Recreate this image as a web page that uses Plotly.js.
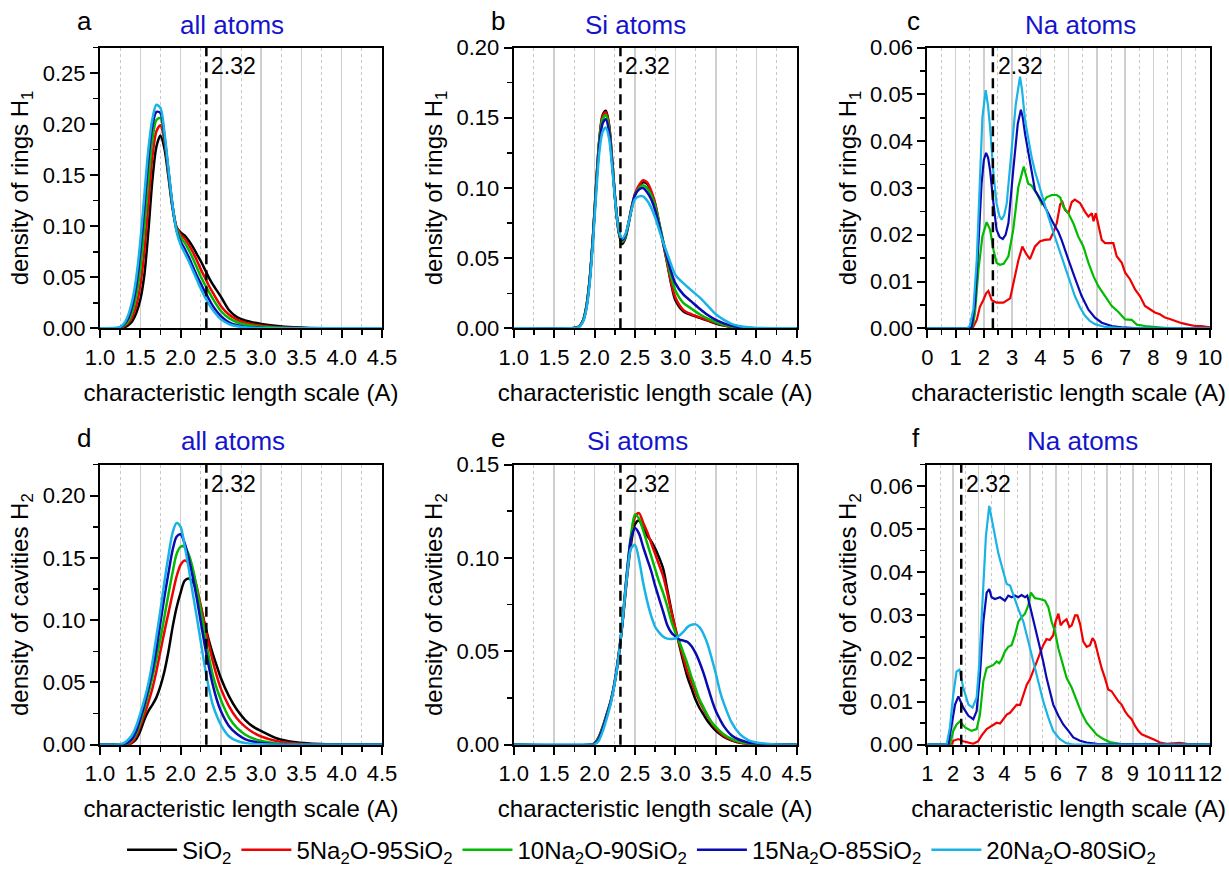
<!DOCTYPE html>
<html><head><meta charset="utf-8">
<script src="https://cdn.plot.ly/plotly-3.0.1.min.js"></script>
<style>html,body{margin:0;padding:0;background:#fff}#chart{width:1229px;height:873px}</style>
</head><body><div id="chart"></div>
<script>
// ---------------- DATA ----------------
const seriesNames = ['SiO<sub>2</sub>', '5Na<sub>2</sub>O-95SiO<sub>2</sub>', '10Na<sub>2</sub>O-90SiO<sub>2</sub>', '15Na<sub>2</sub>O-85SiO<sub>2</sub>', '20Na<sub>2</sub>O-80SiO<sub>2</sub>'];
const seriesColors = ['#000000', '#f00000', '#00bb00', '#0a0ab4', '#19b3e6'];
const panelLetters = ['a', 'b', 'c', 'd', 'e', 'f'];
const panelTitles = ['all atoms', 'Si atoms', 'Na atoms', 'all atoms', 'Si atoms', 'Na atoms'];
const yTitles = ['density of rings H<sub>1</sub>', 'density of rings H<sub>1</sub>', 'density of rings H<sub>1</sub>',
                 'density of cavities H<sub>2</sub>', 'density of cavities H<sub>2</sub>', 'density of cavities H<sub>2</sub>'];
const xTitle = 'characteristic length scale (A)';
const refLength = 2.32;
const refLabel = '2.32';

// panel a: all atoms, rings H1
const xA = [1.0,1.2,1.25,1.3,1.35,1.4,1.45,1.5,1.55,1.6,1.65,1.7,1.75,1.8,1.85,1.9,1.95,2.0,2.05,2.1,2.15,2.2,2.25,2.3,2.35,2.4,2.5,2.6,2.7,2.8,2.9,3.0,3.2,3.4,3.6,4.0,4.5];
const aSiO2 = [0,0,0,0.001,0.003,0.007,0.015,0.028,0.052,0.095,0.145,0.178,0.189,0.176,0.148,0.118,0.099,0.094,0.091,0.086,0.080,0.073,0.066,0.058,0.050,0.043,0.031,0.018,0.011,0.0078,0.0058,0.0042,0.0022,0.001,0.0004,0.0001,0];
const aNa5 = [0,0,0,0.002,0.005,0.011,0.022,0.042,0.075,0.122,0.168,0.193,0.199,0.183,0.152,0.120,0.099,0.092,0.088,0.082,0.075,0.067,0.058,0.050,0.042,0.035,0.022,0.0135,0.0085,0.0055,0.0038,0.0026,0.0012,0.0005,0.0002,0,0];
const aNa10 = [0,0,0.0005,0.003,0.007,0.016,0.032,0.058,0.098,0.145,0.185,0.204,0.206,0.186,0.153,0.120,0.098,0.089,0.084,0.077,0.069,0.060,0.051,0.043,0.036,0.029,0.017,0.010,0.006,0.0037,0.0024,0.0015,0.0006,0.0002,0,0,0];
const aNa15 = [0,0,0.001,0.004,0.010,0.022,0.042,0.075,0.118,0.165,0.198,0.212,0.211,0.188,0.154,0.120,0.096,0.085,0.078,0.070,0.061,0.052,0.044,0.036,0.029,0.022,0.012,0.006,0.003,0.0015,0.0008,0.0004,0.0001,0,0,0,0];
const aNa20 = [0,0.0005,0.0015,0.005,0.013,0.027,0.05,0.085,0.13,0.175,0.205,0.219,0.216,0.192,0.156,0.121,0.095,0.082,0.074,0.066,0.057,0.048,0.039,0.031,0.024,0.018,0.009,0.0042,0.002,0.001,0.0005,0.0002,0,0,0,0,0];

// panel b: Si atoms, rings H1
const xB = [1.0,1.7,1.78,1.82,1.86,1.9,1.94,1.98,2.02,2.06,2.1,2.14,2.18,2.22,2.26,2.3,2.34,2.38,2.42,2.46,2.5,2.55,2.6,2.65,2.7,2.75,2.8,2.85,2.9,2.95,3.0,3.1,3.2,3.3,3.4,3.5,3.6,3.7,3.8,3.9,4.0,4.2,4.5];
const bSiO2 = [0,0,0.0005,0.002,0.006,0.016,0.035,0.065,0.103,0.135,0.152,0.155,0.145,0.118,0.088,0.068,0.060,0.064,0.074,0.086,0.095,0.101,0.104,0.103,0.097,0.088,0.074,0.060,0.046,0.031,0.020,0.012,0.0095,0.0075,0.0055,0.0035,0.002,0.001,0.0004,0.0001,0,0,0];
const bNa5 = [0,0,0.0005,0.002,0.006,0.016,0.035,0.065,0.103,0.135,0.151,0.154,0.144,0.118,0.089,0.069,0.0615,0.065,0.075,0.087,0.096,0.102,0.1055,0.104,0.098,0.089,0.075,0.061,0.046,0.032,0.022,0.013,0.010,0.0078,0.0058,0.004,0.0022,0.001,0.0004,0.0001,0,0,0];
const bNa10 = [0,0,0.0005,0.002,0.006,0.016,0.035,0.065,0.102,0.134,0.149,0.152,0.142,0.117,0.089,0.069,0.062,0.065,0.075,0.086,0.095,0.100,0.102,0.100,0.095,0.087,0.075,0.062,0.048,0.036,0.027,0.018,0.014,0.010,0.007,0.0045,0.0025,0.0012,0.0005,0.0002,0,0,0];
const bNa15 = [0,0,0.0004,0.0018,0.0055,0.015,0.034,0.064,0.100,0.131,0.146,0.149,0.140,0.116,0.089,0.070,0.063,0.066,0.075,0.086,0.095,0.099,0.100,0.097,0.092,0.084,0.073,0.061,0.050,0.040,0.032,0.024,0.019,0.014,0.0095,0.006,0.0035,0.0018,0.0008,0.0003,0.0001,0,0];
const bNa20 = [0,0,0.0003,0.0015,0.005,0.014,0.032,0.061,0.096,0.126,0.140,0.143,0.135,0.113,0.088,0.070,0.064,0.067,0.075,0.085,0.092,0.094,0.094,0.091,0.086,0.079,0.070,0.061,0.053,0.045,0.038,0.032,0.027,0.022,0.016,0.010,0.006,0.003,0.0015,0.0007,0.0003,0.0001,0];

// panel c: Na atoms, rings H1 (each series sampled separately)
const cNa5X = [0,1.6,1.75,1.86,1.98,2.08,2.16,2.28,2.45,2.69,2.93,3.04,3.22,3.36,3.51,3.63,3.81,3.99,4.16,4.34,4.46,4.58,4.7,4.78,4.87,4.99,5.11,5.22,5.4,5.58,5.7,5.82,5.88,5.96,6.05,6.17,6.29,6.46,6.58,6.7,6.88,7.0,7.17,7.35,7.52,7.7,7.88,8.05,8.23,8.41,8.58,8.76,9.0,9.23,9.47,9.7,9.94,10];
const cNa5 = [0,0,0.0018,0.0046,0.006,0.0075,0.008,0.006,0.0055,0.0055,0.0064,0.0095,0.0145,0.0175,0.0158,0.0148,0.0175,0.0186,0.0189,0.0190,0.0205,0.0225,0.0265,0.0270,0.0253,0.0246,0.0270,0.0275,0.0268,0.0249,0.0239,0.0246,0.0229,0.0246,0.0224,0.0189,0.0182,0.0182,0.0182,0.0154,0.0140,0.0119,0.0105,0.0083,0.0069,0.0048,0.0041,0.0034,0.0030,0.0023,0.0020,0.0016,0.0011,0.0008,0.0005,0.0005,0.0002,0.0002];
const cNa10X = [0,1.55,1.62,1.69,1.81,1.95,2.1,2.22,2.34,2.45,2.57,2.7,2.87,3.04,3.22,3.41,3.5,3.57,3.69,3.87,4.05,4.22,4.4,4.58,4.7,4.81,4.99,5.17,5.34,5.52,5.7,5.88,6.05,6.29,6.52,6.76,7.0,7.23,7.41,7.7,8.17,8.6,10];
const cNa10 = [0,0,0.0008,0.0034,0.0126,0.0197,0.0227,0.0211,0.0168,0.014,0.0136,0.0138,0.0154,0.0211,0.0302,0.0346,0.0325,0.0309,0.0305,0.0288,0.0266,0.0280,0.0285,0.0285,0.0280,0.0260,0.0246,0.0224,0.0196,0.0175,0.0140,0.0111,0.0090,0.0069,0.0048,0.0035,0.0019,0.0018,0.0008,0.0005,0.0002,0,0];
const cNa15X = [0,1.5,1.57,1.69,1.81,1.92,2.0,2.08,2.15,2.22,2.34,2.45,2.56,2.67,2.77,2.87,3.04,3.2,3.31,3.38,3.46,3.63,3.81,3.99,4.22,4.46,4.63,4.75,4.87,4.99,5.22,5.46,5.7,5.93,6.17,6.52,6.88,7.5,10];
const cNa15 = [0,0,0.0003,0.0055,0.0182,0.031,0.0360,0.0375,0.0365,0.0338,0.0267,0.0211,0.0195,0.0191,0.0200,0.0225,0.0338,0.0437,0.0467,0.0450,0.0415,0.0352,0.0295,0.0277,0.0253,0.0224,0.0207,0.0189,0.0170,0.0147,0.0108,0.0069,0.0040,0.0023,0.0012,0.0005,0.0002,0,0];
const cNa20X = [0,1.4,1.5,1.63,1.75,1.86,1.95,2.065,2.15,2.22,2.34,2.45,2.55,2.63,2.72,2.81,2.98,3.13,3.28,3.35,3.46,3.58,3.69,3.81,3.93,4.1,4.28,4.45,4.63,4.81,4.99,5.1,5.22,5.4,5.58,5.75,5.93,6.29,7,10];
const cNa20 = [0,0,0.0005,0.0041,0.0147,0.0323,0.0451,0.0509,0.0475,0.043,0.0331,0.0267,0.0240,0.0232,0.0242,0.0267,0.0373,0.0479,0.0538,0.0510,0.0444,0.0400,0.0366,0.0335,0.0309,0.0275,0.0239,0.0207,0.0175,0.0143,0.0111,0.0090,0.0069,0.0045,0.0027,0.0016,0.0009,0.0003,0,0];

// panel d: all atoms, cavities H2
const xD = [1.0,1.25,1.3,1.35,1.4,1.45,1.5,1.55,1.6,1.65,1.7,1.75,1.8,1.85,1.9,1.95,2.0,2.05,2.1,2.15,2.2,2.25,2.3,2.35,2.4,2.45,2.5,2.6,2.7,2.8,2.9,3.0,3.2,3.4,3.6,3.8,4.0,4.5];
const dSiO2 = [0,0,0,0,0.0015,0.0045,0.011,0.020,0.027,0.032,0.038,0.047,0.059,0.075,0.094,0.110,0.122,0.1316,0.1335,0.131,0.123,0.111,0.097,0.084,0.073,0.063,0.0535,0.039,0.028,0.020,0.0145,0.011,0.005,0.0022,0.001,0.0004,0.0001,0];
const dNa5 = [0,0,0,0,0.002,0.007,0.015,0.024,0.034,0.045,0.059,0.075,0.091,0.106,0.121,0.135,0.1445,0.148,0.146,0.139,0.127,0.112,0.096,0.081,0.067,0.055,0.045,0.031,0.021,0.0145,0.0098,0.0066,0.0028,0.0011,0.0004,0.0001,0,0];
const dNa10 = [0,0,0,0.0015,0.004,0.009,0.018,0.029,0.041,0.054,0.069,0.085,0.103,0.121,0.138,0.153,0.159,0.159,0.153,0.142,0.126,0.108,0.089,0.071,0.056,0.045,0.036,0.022,0.0135,0.0082,0.005,0.003,0.001,0.0003,0,0,0,0];
const dNa15 = [0,0,0.0005,0.002,0.005,0.011,0.021,0.032,0.045,0.059,0.077,0.098,0.119,0.138,0.156,0.167,0.169,0.162,0.150,0.135,0.118,0.099,0.080,0.063,0.048,0.036,0.027,0.015,0.0085,0.0045,0.0025,0.0013,0.0003,0,0,0,0,0];
const dNa20 = [0,0.0003,0.0015,0.004,0.008,0.015,0.025,0.036,0.049,0.066,0.087,0.108,0.131,0.152,0.170,0.178,0.175,0.160,0.142,0.122,0.103,0.083,0.063,0.046,0.032,0.023,0.016,0.0068,0.003,0.0013,0.0006,0.0003,0.0001,0,0,0,0,0];

// panel e: Si atoms, cavities H2
const xE = [1.0,1.95,2.0,2.05,2.1,2.15,2.2,2.25,2.3,2.35,2.4,2.45,2.5,2.55,2.6,2.65,2.7,2.75,2.8,2.85,2.9,2.95,3.0,3.05,3.1,3.15,3.2,3.25,3.3,3.35,3.4,3.45,3.5,3.55,3.6,3.7,3.8,3.9,4.0,4.2,4.5];
const eSiO2 = [0,0,0.0008,0.004,0.0095,0.0163,0.0235,0.034,0.049,0.067,0.089,0.107,0.118,0.120,0.116,0.112,0.109,0.105,0.100,0.094,0.083,0.072,0.062,0.053,0.044,0.036,0.030,0.024,0.0195,0.016,0.0125,0.0098,0.0075,0.0057,0.0042,0.0022,0.001,0.0004,0.0002,0,0];
const eNa5 = [0,0,0.0006,0.0035,0.009,0.0158,0.023,0.0335,0.048,0.067,0.090,0.110,0.122,0.124,0.119,0.114,0.108,0.102,0.096,0.090,0.081,0.071,0.062,0.054,0.0463,0.039,0.0335,0.028,0.023,0.0189,0.015,0.0115,0.0088,0.0065,0.0047,0.0025,0.0012,0.0005,0.0002,0,0];
const eNa10 = [0,0,0.0006,0.0035,0.009,0.0158,0.023,0.0335,0.048,0.068,0.092,0.112,0.1233,0.121,0.115,0.108,0.101,0.094,0.087,0.081,0.074,0.066,0.060,0.055,0.049,0.043,0.036,0.030,0.024,0.0198,0.0155,0.012,0.0095,0.0074,0.0055,0.003,0.0015,0.0006,0.0003,0,0];
const eNa15 = [0,0,0.0005,0.003,0.0085,0.0155,0.0228,0.0335,0.048,0.068,0.092,0.110,0.116,0.113,0.106,0.0995,0.093,0.085,0.078,0.071,0.064,0.060,0.058,0.0563,0.0557,0.055,0.0527,0.049,0.044,0.038,0.031,0.024,0.018,0.0136,0.0098,0.0048,0.0025,0.0012,0.0006,0.0001,0];
const eNa20 = [0,0,0.0002,0.002,0.007,0.014,0.022,0.033,0.048,0.068,0.090,0.105,0.107,0.099,0.087,0.077,0.069,0.063,0.060,0.0578,0.0568,0.0566,0.057,0.0585,0.0605,0.063,0.0642,0.0644,0.0628,0.059,0.0535,0.046,0.038,0.0287,0.022,0.0115,0.0055,0.0025,0.0012,0.0003,0];

// panel f: Na atoms, cavities H2
const fNa5X = [1,1.95,2.01,2.21,2.4,2.6,2.79,2.98,3.11,3.31,3.5,3.7,3.83,3.96,4.09,4.22,4.37,4.48,4.61,4.74,4.87,4.99,5.12,5.25,5.38,5.51,5.64,5.77,5.9,5.99,6.1,6.19,6.29,6.42,6.53,6.62,6.75,6.84,6.94,7.07,7.2,7.33,7.43,7.52,7.65,7.78,7.91,8.04,8.17,8.3,8.43,8.56,8.69,8.82,8.95,9.08,9.21,9.34,9.47,9.66,9.86,10.05,10.31,10.57,10.83,11.09,11.35,11.6,12];
const fNa5 = [0,0,0.0009,0.0013,0.0008,0.0005,0.0002,0.0008,0.0021,0.0036,0.0044,0.0051,0.0049,0.0061,0.007,0.0074,0.0086,0.0093,0.0092,0.0116,0.0139,0.0151,0.017,0.0193,0.0212,0.0231,0.0245,0.0243,0.0254,0.0285,0.0304,0.0277,0.0285,0.0291,0.0273,0.0277,0.03,0.03,0.0281,0.0239,0.0227,0.0231,0.0247,0.0239,0.0208,0.0178,0.0155,0.0128,0.0124,0.0112,0.0101,0.0093,0.0078,0.0067,0.0059,0.0044,0.0032,0.0024,0.0021,0.0017,0.0011,0.0005,0.0002,0.0003,0.0004,0.0002,0.0001,0,0];
const fNa10X = [1,1.88,2.01,2.14,2.27,2.47,2.72,2.92,3.05,3.18,3.31,3.44,3.57,3.7,3.8,3.89,4.02,4.15,4.28,4.41,4.54,4.67,4.8,4.93,5.03,5.19,5.38,5.58,5.71,5.84,5.97,6.1,6.23,6.42,6.62,6.81,7.0,7.2,7.39,7.59,7.85,8.1,8.5,12];
const fNa10 = [0,0,0.0032,0.0047,0.0054,0.004,0.0032,0.0036,0.007,0.0147,0.0178,0.0181,0.0185,0.0193,0.0189,0.0197,0.0216,0.0227,0.0231,0.0254,0.0285,0.0296,0.0304,0.0323,0.0353,0.034,0.0338,0.0334,0.0319,0.0285,0.0262,0.0223,0.0193,0.0155,0.0132,0.0101,0.0074,0.0051,0.0036,0.0023,0.0013,0.0006,0.0002,0];
const fNa15X = [1,1.82,1.95,2.08,2.21,2.4,2.6,2.79,2.92,3.05,3.18,3.31,3.41,3.5,3.63,3.83,4.02,4.15,4.28,4.41,4.54,4.67,4.8,4.89,4.99,5.12,5.25,5.38,5.51,5.64,5.77,5.9,6.1,6.29,6.49,6.68,6.94,7.2,7.59,12];
const fNa15 = [0,0,0.0047,0.0093,0.0112,0.0086,0.0067,0.0059,0.0078,0.0162,0.0285,0.0353,0.0361,0.0342,0.0338,0.0342,0.0334,0.0346,0.0342,0.0346,0.0342,0.0347,0.0342,0.0346,0.0323,0.0292,0.0262,0.0231,0.0193,0.0155,0.0124,0.0093,0.0067,0.0047,0.0032,0.0017,0.0009,0.0005,0.0002,0];
const fNa20X = [1,1.75,1.88,2.01,2.14,2.25,2.4,2.6,2.76,2.92,3.02,3.15,3.28,3.41,3.5,3.57,3.76,3.93,4.09,4.22,4.35,4.54,4.74,4.93,5.12,5.32,5.51,5.71,5.9,6.16,6.42,6.68,12];
const fNa20 = [0,0,0.004,0.0116,0.017,0.0174,0.0132,0.0093,0.0086,0.0109,0.0185,0.0338,0.0484,0.0554,0.0525,0.0499,0.0445,0.0407,0.0373,0.0369,0.0346,0.0315,0.0285,0.0239,0.0193,0.0147,0.0101,0.0063,0.0032,0.0013,0.0003,0,0];

// ---------------- BUILD ----------------
const W = 1229, H = 873;
const FONT = 'Liberation Sans, Arial, Helvetica, sans-serif';
// panel boxes in px: [left, right, top, bottom]
const BOX = [[100,382,48,331],[513.7,796.7,48,331],[927.3,1210,48,331],
             [100,382,468.3,750.7],[513.7,796.7,468.3,750.7],[927.3,1210,468.3,750.7]];
const xRanges = [[1,4.5],[1,4.5],[0,10],[1,4.5],[1,4.5],[1,12]];
const xDticks = [0.5,0.5,1,0.5,0.5,1];
const xFmts = ['.1f','.1f','d','.1f','.1f','d'];
const yRanges = [[0,0.275],[0,0.2],[0,0.06],[0,0.225],[0,0.15],[0,0.065]];
const yDticks = [0.05,0.05,0.01,0.05,0.05,0.01];

// series per panel: list of [x, y] for each composition (null = not drawn)
const panelSeries = [
  [[xA,aSiO2],[xA,aNa5],[xA,aNa10],[xA,aNa15],[xA,aNa20]],
  [[xB,bSiO2],[xB,bNa5],[xB,bNa10],[xB,bNa15],[xB,bNa20]],
  [null,[cNa5X,cNa5],[cNa10X,cNa10],[cNa15X,cNa15],[cNa20X,cNa20]],
  [[xD,dSiO2],[xD,dNa5],[xD,dNa10],[xD,dNa15],[xD,dNa20]],
  [[xE,eSiO2],[xE,eNa5],[xE,eNa10],[xE,eNa15],[xE,eNa20]],
  [null,[fNa5X,fNa5],[fNa10X,fNa10],[fNa15X,fNa15],[fNa20X,fNa20]]
];
const smoothPanel = [true,true,false,true,true,false];

const data = [];
const layout = {
  width: W, height: H,
  margin: {l:0, r:0, t:0, b:0},
  paper_bgcolor: '#fff', plot_bgcolor: '#fff',
  font: {family: FONT, color: '#000', size: 22},
  showlegend: true,
  hovermode: false,
  legend: {orientation: 'h', x: 0.522, xanchor: 'center', y: 1 - 857/H, yanchor: 'middle',
           font: {size: 24, family: FONT}, bgcolor: 'rgba(0,0,0,0)', itemwidth: 50, tracegroupgap: 0},
  annotations: [], shapes: []
};

const sfx = i => (i === 0 ? '' : String(i + 1));

for (let p = 0; p < 6; p++) {
  const [l, r, t, b] = BOX[p];
  const xs = sfx(p), ys = sfx(p);
  const xd = [l / W, r / W], yd = [1 - b / H, 1 - t / H];
  const minorX = xDticks[p] / 2, minorY = yDticks[p] / 2;
  layout['xaxis' + xs] = {
    domain: xd, anchor: 'y' + ys, range: xRanges[p], dtick: xDticks[p], tick0: 0, tickformat: xFmts[p],
    showline: true, linecolor: '#000', linewidth: 2, mirror: true,
    ticks: 'outside', ticklen: 8, tickwidth: 2, tickcolor: '#000',
    tickfont: {size: 22, family: FONT, color: '#000'},
    showgrid: true, gridcolor: '#cfcfcf', gridwidth: 1.5, zeroline: false,
    minor: {dtick: minorX, tick0: 0, ticks: 'outside', ticklen: 5, tickwidth: 1.5, tickcolor: '#000',
            showgrid: true, gridcolor: '#c8c8c8', griddash: 'dot', gridwidth: 1},
    title: {text: xTitle, font: {size: 24, family: FONT, color: '#000'}, standoff: 15},
    automargin: false, fixedrange: true
  };
  layout['yaxis' + ys] = {
    domain: yd, anchor: 'x' + xs, range: yRanges[p], dtick: yDticks[p], tick0: 0, tickformat: '.2f',
    showline: true, linecolor: '#000', linewidth: 2, mirror: true,
    ticks: 'outside', ticklen: 8, tickwidth: 2, tickcolor: '#000',
    tickfont: {size: 22, family: FONT, color: '#000'},
    showgrid: false, zeroline: false,
    minor: {dtick: minorY, tick0: 0, ticks: 'outside', ticklen: 5, tickwidth: 1.5, tickcolor: '#000', showgrid: false},
    title: {text: yTitles[p], font: {size: 24, family: FONT, color: '#000'}, standoff: 7},
    automargin: false, fixedrange: true
  };
  // inward ticks on top and right edges (overlay axes)
  const ox = sfx(p + 6), oy = sfx(p + 6);
  layout['xaxis' + ox] = {
    overlaying: 'x' + xs, anchor: 'y' + ys, side: 'top', range: xRanges[p], dtick: xDticks[p], tick0: 0,
    showticklabels: false, showgrid: false, zeroline: false, showline: false,
    ticks: 'inside', ticklen: 8, tickwidth: 2, tickcolor: '#000',
    minor: {dtick: minorX, tick0: 0, ticks: 'inside', ticklen: 5, tickwidth: 1.5, tickcolor: '#000', showgrid: false},
    fixedrange: true
  };
  layout['yaxis' + oy] = {
    overlaying: 'y' + ys, anchor: 'x' + xs, side: 'right', range: yRanges[p], dtick: yDticks[p], tick0: 0,
    showticklabels: false, showgrid: false, zeroline: false, showline: false,
    ticks: 'inside', ticklen: 8, tickwidth: 2, tickcolor: '#000',
    minor: {dtick: minorY, tick0: 0, ticks: 'inside', ticklen: 5, tickwidth: 1.5, tickcolor: '#000', showgrid: false},
    fixedrange: true
  };

  panelSeries[p].forEach((s, k) => {
    if (!s) return;
    data.push({
      type: 'scatter', mode: 'lines', x: s[0], y: s[1],
      xaxis: 'x' + xs, yaxis: 'y' + ys,
      name: seriesNames[k], legendgroup: 'g' + k, showlegend: p === 0,
      line: smoothPanel[p] ? {color: seriesColors[k], width: 2.5, shape: 'spline', smoothing: 0.8}
                           : {color: seriesColors[k], width: 2.2, shape: 'linear'}
    });
  });

  // reference line at 2.32
  layout.shapes.push({type: 'line', xref: 'x' + xs, yref: 'y' + ys + ' domain', x0: refLength, x1: refLength, y0: 0, y1: 1,
                      line: {color: '#000', width: 2.5, dash: '10px,6px'}, layer: 'above'});
  const labelPy = p < 3 ? 67 : 488;
  layout.annotations.push({text: refLabel, xref: 'x' + xs, x: refLength, xanchor: 'left', xshift: 3,
                           yref: 'y' + ys + ' domain', y: (b - labelPy) / (b - t), yanchor: 'middle',
                           showarrow: false, font: {size: 23, family: FONT, color: '#000'}});
}

// panel letters and titles
const letterPx = [[84,21],[498,21],[913,21],[84,442],[498,442],[916,442]];
const titlePx = [[232,25],[635,25],[1080,25],[233,445],[637,445],[1082,445]];
for (let p = 0; p < 6; p++) {
  layout.annotations.push({text: panelLetters[p], xref: 'paper', yref: 'paper', x: letterPx[p][0] / W, y: 1 - letterPx[p][1] / H,
                           xanchor: 'center', yanchor: 'middle', showarrow: false, font: {size: 26, family: FONT, color: '#000'}});
  layout.annotations.push({text: panelTitles[p], xref: 'paper', yref: 'paper', x: titlePx[p][0] / W, y: 1 - titlePx[p][1] / H,
                           xanchor: 'center', yanchor: 'middle', showarrow: false, font: {size: 26, family: FONT, color: '#1414cc'}});
}

Plotly.newPlot('chart', data, layout, {staticPlot: true, displayModeBar: false});
</script></body></html>
